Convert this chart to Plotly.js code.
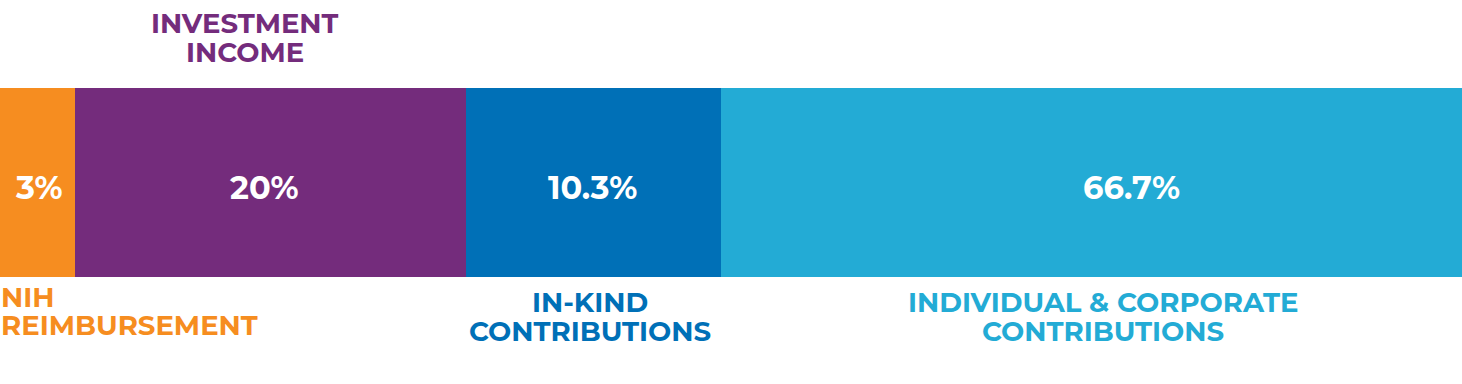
<!DOCTYPE html>
<html>
<head>
<meta charset="utf-8">
<script src="https://cdn.plot.ly/plotly-3.0.1.min.js"></script>
<style>html,body{margin:0;padding:0;background:#fff;}#chart{width:1462px;height:384px;}</style>
</head>
<body>
<div id="chart"></div>
<script>
// Data (segment widths, printed labels as shown)
const categories = ["NIH Reimbursement", "Investment Income", "In-Kind Contributions", "Individual & Corporate Contributions"];
const segmentWidths = [5.13, 26.74, 17.44, 50.69];
const valueLabels = ["3%", "20%", "10.3%", "66.7%"];
const nameLines = [["NIH", "REIMBURSEMENT"], ["INVESTMENT", "INCOME"], ["IN-KIND", "CONTRIBUTIONS"], ["INDIVIDUAL & CORPORATE", "CONTRIBUTIONS"]];
const colors = ["#F68D20", "#742C7C", "#0070B7", "#23ABD5"];

const FONT = "Montserrat, 'Open Sans', 'DejaVu Sans', sans-serif";

const traces = categories.map((c, i) => ({
  type: "bar",
  orientation: "h",
  name: c,
  y: [0],
  x: [segmentWidths[i]],
  width: 1,
  marker: {color: colors[i], line: {width: 0}},
  textposition: "none",
  hoverinfo: "skip"
}));

// placements
const valX = [0.0267, 0.1806, 0.4056, 0.7736];
const valY = -0.0238;
const nameX = [0.0, 0.1675, 0.4035, 0.7545];
const nameAnchor = ["left", "center", "center", "center"];
const nameY = [[-0.6058, -0.7540], [0.8439, 0.6905], [-0.6323, -0.7857], [-0.6323, -0.7857]];

const annotations = [];
valueLabels.forEach((v, i) => annotations.push({
  xref: "paper", yref: "y", x: valX[i], y: valY,
  xanchor: "center", yanchor: "middle", text: v, showarrow: false,
  font: {color: "#ffffff", size: 32, family: FONT, weight: 700}
}));
nameLines.forEach((lines, i) => lines.forEach((t, j) => annotations.push({
  xref: "paper", yref: "y", x: nameX[i], y: nameY[i][j],
  xanchor: nameAnchor[i], yanchor: "middle", text: t, showarrow: false,
  height: 24, valign: "middle", borderpad: 0,
  font: {color: colors[i], size: 27.5, family: FONT, weight: 700}
})));

const layout = {
  width: 1462, height: 384,
  margin: {l: 0, r: 0, t: 0, b: 0, pad: 0},
  barmode: "stack",
  bargap: 0,
  showlegend: false,
  paper_bgcolor: "#ffffff",
  plot_bgcolor: "#ffffff",
  xaxis: {range: [0, 100], visible: false, fixedrange: true},
  yaxis: {range: [-1.0661, 0.9656], visible: false, fixedrange: true},
  annotations: annotations
};

Plotly.newPlot("chart", traces, layout, {displayModeBar: false, staticPlot: true});
</script>
</body>
</html>
